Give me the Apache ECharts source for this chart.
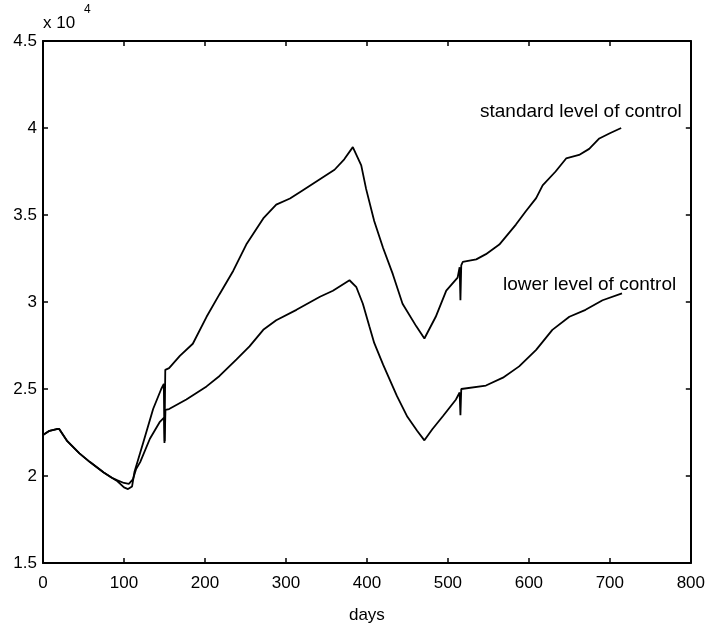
<!DOCTYPE html>
<html>
<head>
<meta charset="utf-8">
<script src="https://cdn.jsdelivr.net/npm/echarts@6/dist/echarts.min.js"></script>
<style>
  html, body { margin: 0; padding: 0; background: #fff; }
  #chart { width: 708px; height: 629px; }
</style>
</head>
<body>
<div id="chart"></div>
<script>
// x axis ticks (days) and y ticks (x 10^4)
var dayTicks = [0, 100, 200, 300, 400, 500, 600, 700, 800];
var levelTicks = [1.5, 2, 2.5, 3, 3.5, 4, 4.5];

// standard level of control
var stdDays = [0, 8, 17, 20, 30, 45, 58, 75, 85, 92, 100, 105, 110, 113, 124, 136, 146, 149.2, 150, 151,
  155.7, 169, 185, 202, 218, 235, 251, 272, 288, 305, 320, 340, 360, 372, 382.6,
  393, 399, 409, 420, 432, 444, 461, 471, 485, 498, 512, 514.5, 515.5, 516.5, 518.3,
  535, 547, 563.5, 584, 596, 609, 617, 633, 646, 662, 674.5, 687, 700, 714];
var stdValues = [22350, 22600, 22700, 22700, 22000, 21300, 20800, 20200, 19900, 19700, 19350, 19250, 19400, 20250, 21950, 23850, 25000, 25300, 21900, 26100,
  26200, 26900, 27600, 29150, 30450, 31800, 33300, 34800, 35600, 35950, 36400, 37000, 37600, 38200, 38900,
  37850, 36500, 34650, 33100, 31600, 29900, 28600, 27900, 29150, 30650, 31400, 32000, 30100, 32100, 32300,
  32450, 32750, 33300, 34450, 35200, 35970, 36700, 37500, 38250, 38450, 38800, 39400, 39700, 40000];

// lower level of control
var lowDays = [0, 8, 17, 20, 30, 45, 58, 75, 85, 92, 100, 106, 111, 115, 120, 132, 144, 149.5, 150.3, 151.2,
  155.7, 177, 202, 218, 239, 255, 272, 288, 313, 342, 358, 378.5, 387, 395, 403, 409,
  420, 437, 450, 462, 471, 481, 494, 510, 514.5, 515.5, 516.5, 547, 568, 588, 609, 629, 650, 670, 691, 715];
var lowValues = [22350, 22600, 22700, 22700, 22000, 21300, 20800, 20200, 19900, 19750, 19600, 19550, 19800, 20400, 20800, 22140, 23090, 23350, 22000, 23800,
  23850, 24400, 25150, 25750, 26700, 27450, 28400, 28950, 29550, 30300, 30650, 31250, 30850, 29900, 28600, 27650,
  26400, 24600, 23400, 22600, 22050, 22700, 23450, 24400, 24800, 23500, 25000, 25200, 25650, 26300, 27250, 28400, 29150, 29550, 30100, 30500];

function pairs(xs, ys) {
  return xs.map(function (x, i) { return [x, ys[i]]; });
}

var chart = echarts.init(document.getElementById('chart'));
var fontFam = 'Liberation Sans, Arial, sans-serif';
var tickFont = { color: '#000', fontSize: 17, fontFamily: fontFam };
var boxLine = { show: true, onZero: false, lineStyle: { color: '#000', width: 2 } };
var inTick = { inside: true, length: 5, lineStyle: { color: '#000', width: 1.5 } };

chart.setOption({
  animation: false,
  grid: { left: 43, right: 16, top: 41, bottom: 60, containLabel: false },
  xAxis: [
    {
      type: 'value', min: 0, max: 800, interval: 100,
      name: 'days', nameLocation: 'middle', nameGap: 44,
      nameTextStyle: { color: '#000', fontSize: 17, fontFamily: fontFam },
      axisLine: boxLine, axisTick: inTick,
      axisLabel: Object.assign({ margin: 12, formatter: function (v) { return dayTicks.indexOf(v) >= 0 ? String(v) : ''; } }, tickFont),
      splitLine: { show: false }
    },
    {
      type: 'value', min: 0, max: 800, interval: 100, position: 'top',
      axisLine: boxLine, axisTick: inTick,
      axisLabel: { show: false },
      splitLine: { show: false }
    }
  ],
  yAxis: [
    {
      type: 'value', min: 15000, max: 45000, interval: 5000,
      axisLine: boxLine, axisTick: inTick,
      axisLabel: Object.assign({ margin: 6, formatter: function (v) { return String(levelTicks[Math.round((v - 15000) / 5000)]); } }, tickFont),
      splitLine: { show: false }
    },
    {
      type: 'value', min: 15000, max: 45000, interval: 5000, position: 'right',
      axisLine: boxLine, axisTick: inTick,
      axisLabel: { show: false },
      splitLine: { show: false }
    }
  ],
  series: [
    {
      name: 'standard level of control', type: 'line', showSymbol: false,
      data: pairs(stdDays, stdValues),
      lineStyle: { color: '#000', width: 1.8 }
    },
    {
      name: 'lower level of control', type: 'line', showSymbol: false,
      data: pairs(lowDays, lowValues),
      lineStyle: { color: '#000', width: 1.8 }
    }
  ],
  graphic: [
    { type: 'text', left: 43, top: 15, style: { text: 'x 10', fill: '#000', font: '17px "Liberation Sans", Arial, sans-serif' } },
    { type: 'text', left: 84, top: 4, style: { text: '4', fill: '#000', font: '12px "Liberation Sans", Arial, sans-serif' } },
    { type: 'text', left: 480, top: 102, style: { text: 'standard level of control', fill: '#000', font: '19px "Liberation Sans", Arial, sans-serif' } },
    { type: 'text', left: 503, top: 275, style: { text: 'lower level of control', fill: '#000', font: '19px "Liberation Sans", Arial, sans-serif' } }
  ]
});
</script>
</body>
</html>
